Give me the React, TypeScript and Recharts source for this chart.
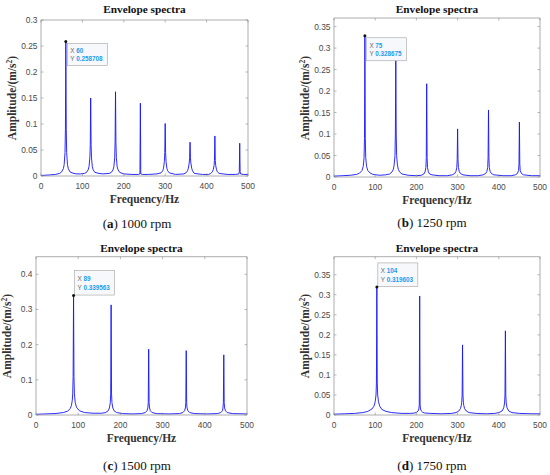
import React from 'react';
import { LineChart, Line, XAxis, YAxis, ReferenceDot } from 'recharts';

// ---------- data ----------
const freqA = [
  0, 20, 35, 45, 50, 54, 56, 58, 59,
  60,
  61, 62, 64, 66, 70, 75, 85, 95,
  105, 110, 114, 116, 118, 119, 120, 121, 122, 124, 126, 130, 140, 150,
  165, 170, 174, 176, 178, 179, 180, 181, 182, 184, 186, 190, 200, 220,
  235, 239, 240, 241, 245, 260, 280,
  290, 294, 296, 298, 299, 300, 301, 302, 304, 306, 310, 325,
  345, 350, 354, 356, 358, 359, 360, 361, 362, 364, 366, 370, 390,
  405, 410, 414, 416, 418, 419, 420, 421, 422, 424, 426, 430, 450, 470,
  478, 479, 480, 481, 482, 490, 500,
];
const ampA = [
  0.001, 0.002, 0.003, 0.005, 0.008, 0.014, 0.022, 0.045, 0.09,
  0.258708,
  0.09, 0.045, 0.022, 0.014, 0.008, 0.006, 0.004, 0.004,
  0.005, 0.007, 0.012, 0.018, 0.035, 0.06, 0.15, 0.06, 0.035, 0.018, 0.012, 0.007, 0.005, 0.004,
  0.005, 0.007, 0.012, 0.018, 0.035, 0.065, 0.162, 0.065, 0.035, 0.018, 0.012, 0.007, 0.004, 0.003,
  0.003, 0.004, 0.14, 0.004, 0.003, 0.003, 0.004,
  0.006, 0.01, 0.015, 0.028, 0.045, 0.101, 0.045, 0.028, 0.015, 0.01, 0.006, 0.003,
  0.004, 0.006, 0.01, 0.015, 0.025, 0.035, 0.065, 0.035, 0.025, 0.015, 0.01, 0.005, 0.003,
  0.003, 0.005, 0.008, 0.012, 0.02, 0.03, 0.077, 0.03, 0.02, 0.012, 0.008, 0.005, 0.003, 0.003,
  0.004, 0.008, 0.063, 0.008, 0.004, 0.003, 0.003,
];

const freqB = [
  0, 20, 40, 55, 62, 68, 71, 73, 74,
  75,
  76, 77, 79, 82, 88, 95, 110,
  125, 135, 141, 144, 146, 148, 149, 150, 151, 152, 154, 156, 159, 165, 180,
  200, 212, 218, 221, 223, 224, 225, 226, 227, 229, 232, 238, 255,
  275, 287, 293, 296, 298, 299, 300, 301, 302, 304, 307, 313, 330,
  350, 362, 368, 371, 373, 374, 375, 376, 377, 379, 382, 388, 410,
  430, 440, 445, 448, 449, 450, 451, 452, 455, 460, 480, 500,
];
const ampB = [
  0.002, 0.003, 0.004, 0.006, 0.009, 0.015, 0.025, 0.045, 0.09,
  0.328675,
  0.09, 0.045, 0.025, 0.015, 0.009, 0.006, 0.004,
  0.005, 0.007, 0.012, 0.018, 0.028, 0.05, 0.1, 0.285, 0.1, 0.05, 0.028, 0.018, 0.012, 0.007, 0.004,
  0.003, 0.004, 0.007, 0.012, 0.022, 0.045, 0.217, 0.045, 0.022, 0.012, 0.007, 0.005, 0.003,
  0.003, 0.005, 0.008, 0.013, 0.022, 0.04, 0.112, 0.04, 0.022, 0.013, 0.008, 0.005, 0.003,
  0.003, 0.005, 0.008, 0.013, 0.022, 0.045, 0.156, 0.045, 0.022, 0.013, 0.008, 0.005, 0.003,
  0.003, 0.005, 0.008, 0.015, 0.03, 0.128, 0.03, 0.015, 0.008, 0.005, 0.003, 0.003,
];

const freqC = [
  0, 20, 45, 65, 75, 81, 84, 86, 87, 88,
  89,
  90, 91, 93, 96, 103, 115, 135,
  155, 165, 171, 174, 176, 177, 178, 179, 180, 182, 185, 191, 205,
  230, 250, 259, 263, 265, 266, 267, 268, 269, 271, 275, 285,
  315, 340, 348, 352, 354, 355, 356, 357, 358, 360, 364, 375,
  405, 430, 438, 442, 443, 444, 445, 446, 447, 449, 453, 465, 500,
];
const ampC = [
  0.002, 0.003, 0.004, 0.007, 0.011, 0.018, 0.027, 0.042, 0.06, 0.11,
  0.339563,
  0.11, 0.06, 0.035, 0.022, 0.012, 0.007, 0.005,
  0.005, 0.007, 0.012, 0.02, 0.035, 0.06, 0.313, 0.06, 0.035, 0.02, 0.012, 0.007, 0.004,
  0.003, 0.004, 0.007, 0.012, 0.02, 0.035, 0.187, 0.035, 0.02, 0.012, 0.007, 0.004,
  0.003, 0.004, 0.007, 0.012, 0.02, 0.035, 0.183, 0.035, 0.02, 0.012, 0.007, 0.004,
  0.003, 0.004, 0.007, 0.012, 0.02, 0.035, 0.171, 0.035, 0.02, 0.012, 0.007, 0.004, 0.003,
];

const freqD = [
  0, 25, 50, 70, 82, 92, 97, 100, 102, 103,
  104,
  105, 106, 108, 111, 116, 126, 140, 165,
  185, 196, 201, 204, 206, 207, 208, 209, 210, 212, 215, 220, 235, 260,
  285, 296, 303, 307, 309, 310, 311, 312, 313, 314, 315, 317, 321, 328, 345, 370,
  390, 400, 408, 412, 414, 415, 416, 417, 418, 420, 424, 432, 450, 480, 500,
];
const ampD = [
  0.002, 0.003, 0.004, 0.006, 0.009, 0.015, 0.022, 0.033, 0.05, 0.08,
  0.319603,
  0.08, 0.05, 0.033, 0.022, 0.014, 0.009, 0.006, 0.004,
  0.004, 0.005, 0.007, 0.01, 0.015, 0.025, 0.297, 0.025, 0.015, 0.01, 0.007, 0.005, 0.004, 0.003,
  0.004, 0.006, 0.01, 0.016, 0.024, 0.032, 0.05, 0.175, 0.05, 0.032, 0.024, 0.016, 0.01, 0.006, 0.004, 0.003,
  0.004, 0.006, 0.01, 0.018, 0.03, 0.05, 0.21, 0.05, 0.03, 0.018, 0.01, 0.006, 0.004, 0.003, 0.003,
];

const xTicks = [0, 100, 200, 300, 400, 500];
const yTicksA = [0, 0.05, 0.1, 0.15, 0.2, 0.25, 0.3];
const yTicksB = [0, 0.05, 0.1, 0.15, 0.2, 0.25, 0.3, 0.35];
const yTicksC = [0, 0.1, 0.2, 0.3, 0.4];
const yTicksD = [0, 0.05, 0.1, 0.15, 0.2, 0.25, 0.3, 0.35];
const yMaxes = [0.3, 0.37, 0.45, 0.395];
const peakXs = [60, 75, 89, 104];
const peakYs = [0.258708, 0.328675, 0.339563, 0.319603];
const peakXLabels = ['60', '75', '89', '104'];
const peakYLabels = ['0.258708', '0.328675', '0.339563', '0.319603'];
const captionLetters = ['a', 'b', 'c', 'd'];
const captionRpm = ['1000 rpm', '1250 rpm', '1500 rpm', '1750 rpm'];
const titleText = 'Envelope spectra';
const xLabelText = 'Frequency/Hz';

// ---------- layout ----------
const CW = 275;
const CH = 240;
const AXIS = '#8a8a8a';
const TICKTXT = '#4a4a4a';
const SANS = '"Liberation Sans", Arial, Helvetica, sans-serif';
const SERIF = '"Liberation Serif", "Times New Roman", serif';
const XH = 15; // bottom x-axis height
const XTOP = 4; // top mirror axis height
const YW = 20; // left y-axis width
const YR = 4; // right mirror axis width

type Layout = {
  left: number; top: number; L: number; R: number; T: number; B: number;
  tipDx: number; tipDy: number; tipH: number; capX: number; capY: number;
};

const layouts: Layout[] = [
  { left: 0, top: 0, L: 41, R: 248, T: 20, B: 176, tipDx: 1.5, tipDy: 2, tipH: 22, capX: 137, capY: 223 },
  { left: 275, top: 0, L: 59, R: 265, T: 18, B: 177, tipDx: 1.5, tipDy: 2, tipH: 23, capX: 432, capY: 222 },
  { left: 0, top: 235, L: 36, R: 247, T: 21.7, B: 180, tipDx: 1, tipDy: -25, tipH: 24.5, capX: 137, capY: 465 },
  { left: 275, top: 235, L: 59, R: 265, T: 21.7, B: 180, tipDx: 1, tipDy: -24, tipH: 23.5, capX: 432, capY: 465 },
];

const series = [
  { freq: freqA, amp: ampA, yTicks: yTicksA },
  { freq: freqB, amp: ampB, yTicks: yTicksB },
  { freq: freqC, amp: ampC, yTicks: yTicksC },
  { freq: freqD, amp: ampD, yTicks: yTicksD },
];

const abs = (x: number, y: number, extra: React.CSSProperties = {}): React.CSSProperties => ({
  position: 'absolute',
  left: x,
  top: y,
  transform: 'translate(-50%, -50%)',
  whiteSpace: 'nowrap',
  lineHeight: 1,
  ...extra,
});

function Panel({ i }: { i: number }) {
  const lay = layouts[i];
  const s = series[i];
  const data = s.freq.map((f, k) => ({ f, a: s.amp[k] }));
  const { L, R, T, B } = lay;

  const xTick = (p: any) => {
    const x = p.x;
    return (
      <g>
        <line x1={x} x2={x} y1={B} y2={B - 2.5} stroke={AXIS} strokeWidth={0.6} />
        <line x1={x} x2={x} y1={T} y2={T + 2.5} stroke={AXIS} strokeWidth={0.6} />
        <text x={x} y={B + 9.5} textAnchor="middle" dominantBaseline="central" fontSize={8.4} fontFamily={SANS} fill={TICKTXT}>
          {String(p.payload.value)}
        </text>
      </g>
    );
  };
  const yTick = (p: any) => {
    const y = p.y;
    return (
      <g>
        <line x1={L} x2={L + 2.5} y1={y} y2={y} stroke={AXIS} strokeWidth={0.6} />
        <line x1={R} x2={R - 2.5} y1={y} y2={y} stroke={AXIS} strokeWidth={0.6} />
        <text x={L - 3.5} y={y} textAnchor="end" dominantBaseline="central" fontSize={8.4} fontFamily={SANS} fill={TICKTXT}>
          {String(p.payload.value)}
        </text>
      </g>
    );
  };

  const tipShape = (p: any) => {
    const cx = p.cx;
    const cy = p.cy;
    const bx = cx + lay.tipDx;
    const by = cy + lay.tipDy;
    return (
      <g>
        <rect x={bx} y={by} width={40} height={lay.tipH} fill="#f7f8fb" stroke="#a3a3a3" strokeWidth={0.6} />
        <text x={bx + 3} y={by + lay.tipH * 0.3} dominantBaseline="central" fontSize={6.3} fontFamily={SANS}>
          <tspan fill="#666">X </tspan>
          <tspan fill="#1a9cf0" fontWeight="bold">{peakXLabels[i]}</tspan>
        </text>
        <text x={bx + 3} y={by + lay.tipH * 0.68} dominantBaseline="central" fontSize={6.3} fontFamily={SANS}>
          <tspan fill="#666">Y </tspan>
          <tspan fill="#1a9cf0" fontWeight="bold">{peakYLabels[i]}</tspan>
        </text>
        <circle cx={cx} cy={cy} r={1.5} fill="#111" />
      </g>
    );
  };

  const plotCx = lay.left + (L + R) / 2;
  const plotCy = lay.top + (T + B) / 2;

  return (
    <>
      <div style={{ position: 'absolute', left: lay.left, top: lay.top, width: CW, height: CH }}>
        <LineChart
          width={CW}
          height={CH}
          data={data}
          margin={{ top: T - XTOP, left: L - YW, right: CW - R - YR, bottom: CH - B - XH }}
        >
          <XAxis
            dataKey="f"
            type="number"
            domain={[0, 500]}
            ticks={xTicks}
            height={XH}
            axisLine={{ stroke: AXIS, strokeWidth: 0.7 }}
            tickLine={false}
            tick={xTick}
            interval={0}
          />
          <XAxis
            xAxisId="top"
            orientation="top"
            dataKey="f"
            type="number"
            domain={[0, 500]}
            height={XTOP}
            axisLine={{ stroke: AXIS, strokeWidth: 0.7 }}
            tickLine={false}
            tick={false}
          />
          <YAxis
            type="number"
            domain={[0, yMaxes[i]]}
            ticks={s.yTicks}
            width={YW}
            axisLine={{ stroke: AXIS, strokeWidth: 0.7 }}
            tickLine={false}
            tick={yTick}
            interval={0}
            allowDataOverflow
          />
          <YAxis
            yAxisId="right"
            orientation="right"
            type="number"
            domain={[0, yMaxes[i]]}
            width={YR}
            axisLine={{ stroke: AXIS, strokeWidth: 0.7 }}
            tickLine={false}
            tick={false}
            allowDataOverflow
          />
          <Line
            type="linear"
            dataKey="a"
            stroke="#1414ff"
            strokeWidth={0.9}
            dot={false}
            isAnimationActive={false}
          />
          <ReferenceDot x={peakXs[i]} y={peakYs[i]} r={1.5} shape={tipShape} />
        </LineChart>
      </div>
      <div style={abs(plotCx, lay.top + (i < 2 ? 10 : 14), { fontFamily: SERIF, fontWeight: 'bold', fontSize: 11.3, color: '#111' })}>
        {titleText}
      </div>
      <div style={abs(plotCx, lay.top + B + 24, { fontFamily: SERIF, fontWeight: 'bold', fontSize: 11.5, color: '#333' })}>
        {xLabelText}
      </div>
      <div
        style={abs(lay.left + L - 28, plotCy, {
          fontFamily: SERIF,
          fontWeight: 'bold',
          fontSize: 11.5,
          color: '#333',
          transform: 'translate(-50%, -50%) rotate(-90deg)',
        })}
      >
        Amplitude/(m/s<sup style={{ fontSize: '0.65em', verticalAlign: '0.55em', lineHeight: 0 }}>2</sup>)
      </div>
      <div style={abs(lay.capX, lay.capY, { fontFamily: SERIF, fontSize: 13, color: '#111' })}>
        (<b>{captionLetters[i]}</b>) {captionRpm[i]}
      </div>
    </>
  );
}

export default function App() {
  return (
    <div
      style={{
        position: 'absolute',
        left: 0,
        top: 0,
        width: 550,
        height: 475,
        background: '#ffffff',
        overflow: 'hidden',
      }}
    >
      {[0, 1, 2, 3].map((i) => (
        <Panel key={i} i={i} />
      ))}
    </div>
  );
}
